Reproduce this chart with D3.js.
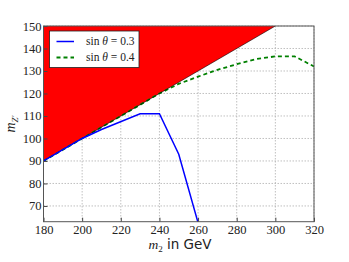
<!DOCTYPE html>
<html lang="en">
<head>
<meta charset="UTF-8">
<script src="https://d3js.org/d3.v7.min.js"></script>
<style>
  body { margin: 0; background: white; }
  text { fill: #222; }
</style>
</head>
<body>
<script>
// data
var excludedM2 = [180, 300, 180];
var excludedMZ = [90, 150, 150];
var blueM2 = [180, 200, 210, 230, 240, 250, 260.5];
var blueMZ = [90, 100, 104, 111, 111, 93, 61];
var greenM2 = [180, 200, 220, 240, 250, 260, 270, 280, 290, 300, 310, 320];
var greenMZ = [90, 100, 110, 120, 124.3, 127.5, 130.5, 133, 135.3, 136.5, 136.5, 132];
var xTicks = [180, 200, 220, 240, 260, 280, 300, 320];
var yTicks = [70, 80, 90, 100, 110, 120, 130, 140, 150];
var legendLabels = ["sin θ = 0.3", "sin θ = 0.4"];

var W = 349, H = 262;
var pLeft = 43.5, pRight = 314, pTop = 26, pBottom = 221.7;

var svg = d3.select("body").append("svg")
    .attr("width", W).attr("height", H);

var x = d3.scaleLinear().domain([180, 320]).range([pLeft, pRight]);
var y = d3.scaleLinear().domain([63, 150]).range([pBottom, pTop]);

svg.append("clipPath").attr("id", "clip")
  .append("rect").attr("x", pLeft).attr("y", pTop)
  .attr("width", pRight - pLeft).attr("height", pBottom - pTop);

// grid
var grid = svg.append("g");
xTicks.forEach(function(t) {
  grid.append("line").attr("x1", x(t)).attr("x2", x(t)).attr("y1", pTop).attr("y2", pBottom)
    .attr("stroke", "#b0b0b0").attr("stroke-width", 0.8).attr("stroke-dasharray", "1.5,1.5");
});
yTicks.forEach(function(t) {
  grid.append("line").attr("x1", pLeft).attr("x2", pRight).attr("y1", y(t)).attr("y2", y(t))
    .attr("stroke", "#b0b0b0").attr("stroke-width", 0.8).attr("stroke-dasharray", "1.5,1.5");
});

var plot = svg.append("g").attr("clip-path", "url(#clip)");

var line = d3.line().x(function(d) { return x(d[0]); }).y(function(d) { return y(d[1]); });

plot.append("path")
  .datum(d3.zip(excludedM2, excludedMZ))
  .attr("d", function(d) { return line(d) + "Z"; })
  .attr("fill", "#ff0000");

plot.append("path")
  .datum(d3.zip(greenM2, greenMZ))
  .attr("d", line)
  .attr("fill", "none").attr("stroke", "#008000").attr("stroke-width", 1.8)
  .attr("stroke-dasharray", "4,3");

plot.append("path")
  .datum(d3.zip(excludedM2.slice(0, 2), excludedMZ.slice(0, 2)))
  .attr("d", line)
  .attr("fill", "none").attr("stroke", "#000").attr("stroke-width", 0.6);

plot.append("path")
  .datum(d3.zip(blueM2, blueMZ))
  .attr("d", line)
  .attr("fill", "none").attr("stroke", "#0000ff").attr("stroke-width", 1.5);

// axes
var tickFont = "'Liberation Serif', serif";
var xAxis = svg.append("g").attr("transform", "translate(0," + pBottom + ")")
  .call(d3.axisBottom(x).tickValues(xTicks).tickSize(-4).tickPadding(3));
var yAxis = svg.append("g").attr("transform", "translate(" + pLeft + ",0)")
  .call(d3.axisLeft(y).tickValues(yTicks).tickSize(-4).tickPadding(2));
[xAxis, yAxis].forEach(function(a) {
  a.select(".domain").remove();
  a.selectAll("line").attr("stroke", "#444");
  a.selectAll("text").attr("font-family", tickFont).attr("font-size", 12.5).attr("fill", "#333");
});

// frame
svg.append("rect").attr("x", pLeft).attr("y", pTop)
  .attr("width", pRight - pLeft).attr("height", pBottom - pTop)
  .attr("fill", "none").attr("stroke", "#555").attr("stroke-width", 1);

// legend
var lg = svg.append("g");
lg.append("rect").attr("x", 49.5).attr("y", 31).attr("width", 89.5).attr("height", 36.5)
  .attr("fill", "white").attr("stroke", "#222").attr("stroke-width", 0.8);
var lStyles = [{c: "#0000ff", d: null, w: 1.5}, {c: "#008000", d: "4,3", w: 1.8}];
legendLabels.forEach(function(lab, i) {
  var yy = 41.5 + i * 16;
  lg.append("line").attr("x1", 56.5).attr("x2", 74).attr("y1", yy).attr("y2", yy)
    .attr("stroke", lStyles[i].c).attr("stroke-width", lStyles[i].w)
    .attr("stroke-dasharray", lStyles[i].d);
  var parts = lab.split("θ");
  var t = lg.append("text").attr("x", 86).attr("y", yy + 3.5)
    .attr("font-family", tickFont).attr("font-size", 11.5);
  t.append("tspan").text(parts[0]);
  t.append("tspan").attr("font-style", "italic").text("θ");
  t.append("tspan").text(parts[1]);
});

// axis labels
var xl = svg.append("text").attr("x", 180).attr("y", 249).attr("text-anchor", "middle")
  .attr("font-size", 13.5);
xl.append("tspan").attr("font-family", tickFont).attr("font-style", "italic").text("m");
xl.append("tspan").attr("font-family", tickFont).attr("font-size", 9).attr("dy", 3).text("2");
xl.append("tspan").attr("font-family", "'DejaVu Sans', sans-serif").attr("dy", -3).text(" in GeV");

var yl = svg.append("text").attr("transform", "translate(15,124) rotate(-90)")
  .attr("text-anchor", "middle").attr("font-family", tickFont).attr("font-size", 14);
yl.append("tspan").attr("font-style", "italic").text("m");
yl.append("tspan").attr("font-style", "italic").attr("font-size", 9).attr("dy", 3).text("Z′");
</script>
</body>
</html>
